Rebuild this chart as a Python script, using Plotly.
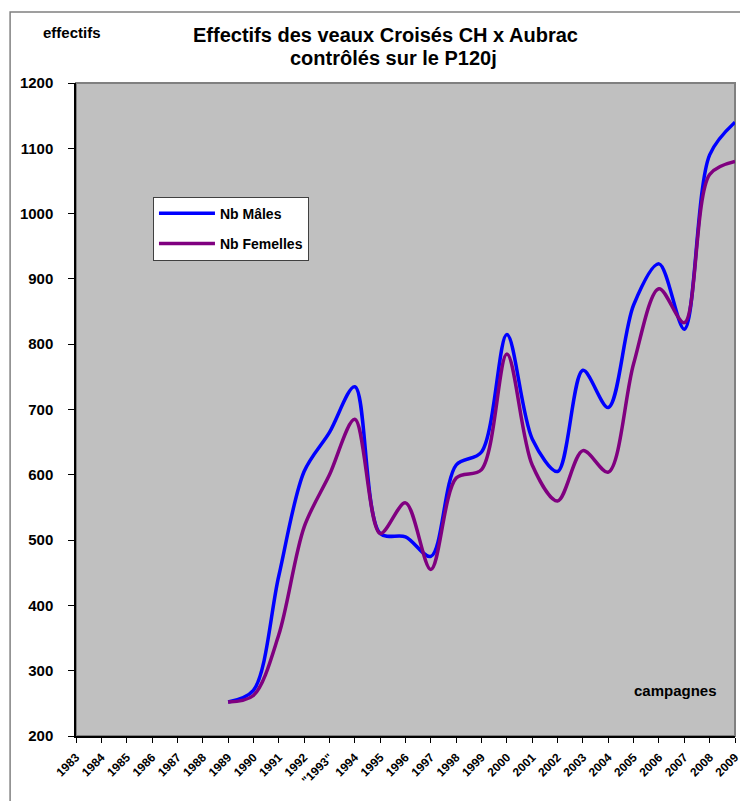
import plotly.graph_objects as go

# --- données ---
annees_axe = list(range(1983, 2010))
etiquettes_axe = [str(a) if a != 1993 else '"1993"' for a in annees_axe]

campagnes = list(range(1989, 2010))
nb_males = [252, 270, 445, 605, 665, 735, 510, 505, 475, 615, 635,
            815, 655, 605, 760, 703, 860, 923, 823, 1090, 1140]
nb_femelles = [252, 262, 355, 520, 600, 685, 510, 557, 455, 595, 608,
               785, 615, 560, 637, 604, 770, 885, 833, 1060, 1080]

POLICE = "Liberation Sans, Arial, sans-serif"

fig = go.Figure()

fig.add_trace(go.Scatter(
    x=campagnes, y=nb_males, name="Nb Mâles", mode="lines",
    line=dict(color="#0000FF", width=3.5, shape="spline", smoothing=0.9),
    legendgroup="m"
))
fig.add_trace(go.Scatter(
    x=campagnes, y=nb_femelles, name="Nb Femelles", mode="lines",
    line=dict(color="#800080", width=3.5, shape="spline", smoothing=0.9),
    legendgroup="f"
))

fig.update_layout(
    width=740, height=801,
    margin=dict(l=76, r=5, t=83, b=65, autoexpand=False),
    paper_bgcolor="white",
    plot_bgcolor="#C0C0C0",
    font=dict(family=POLICE, color="black"),
    showlegend=True,
    legend=dict(
        x=0.1168, y=0.826, xanchor="left", yanchor="top",
        bgcolor="white", bordercolor="#404040", borderwidth=1,
        font=dict(size=14, weight="bold"),
        tracegroupgap=9, itemwidth=56,
    ),
    xaxis=dict(
        range=[1983, 2009.0001], tickvals=annees_axe, ticktext=etiquettes_axe,
        tickangle=-45, tickfont=dict(size=12, weight="bold"),
        ticklabeloverflow="allow", automargin=False,
        showgrid=False, zeroline=False,
        showline=True, linecolor="black", linewidth=1.5,
        ticks="outside", ticklen=5, tickcolor="black", ticklabelstandoff=3,
    ),
    yaxis=dict(
        range=[200, 1200], dtick=100, automargin=False,
        tickfont=dict(size=15, weight="bold"),
        showgrid=False, zeroline=False,
        showline=True, linecolor="black", linewidth=1.5,
        ticks="outside", ticklen=6, tickcolor="black", ticklabelstandoff=12,
    ),
)

# cadre du graphique et bord de la zone de tracé
fig.add_shape(type="rect", xref="paper", yref="paper",
              x0=-0.1, x1=1.2, y0=-0.3, y1=1.1087,
              line=dict(color="#808080", width=1.5))
fig.add_shape(type="rect", xref="paper", yref="paper",
              x0=0, x1=1, y0=0, y1=1, layer="below",
              line=dict(color="#808080", width=2))

# titres
fig.add_annotation(text="<b>Effectifs des veaux Croisés CH x Aubrac</b>",
                   xref="paper", yref="paper", x=0.469, y=1.0735,
                   xanchor="center", yanchor="middle", showarrow=False,
                   font=dict(size=20))
fig.add_annotation(text="<b>contrôlés sur le P120j</b>",
                   xref="paper", yref="paper", x=0.4825, y=1.0383,
                   xanchor="center", yanchor="middle", showarrow=False,
                   font=dict(size=20))
fig.add_annotation(text="<b>effectifs</b>",
                   xref="paper", yref="paper", x=-0.006, y=1.0781,
                   xanchor="center", yanchor="middle", showarrow=False,
                   font=dict(size=15))
fig.add_annotation(text="<b>campagnes</b>",
                   xref="paper", yref="paper", x=0.909, y=0.0699,
                   xanchor="center", yanchor="middle", showarrow=False,
                   font=dict(size=15))

# pas de marge de page autour du graphique, pas de barre d'outils
fig.write_html("out.html", config={"displayModeBar": False},
               post_script="document.body.style.margin='0';")
